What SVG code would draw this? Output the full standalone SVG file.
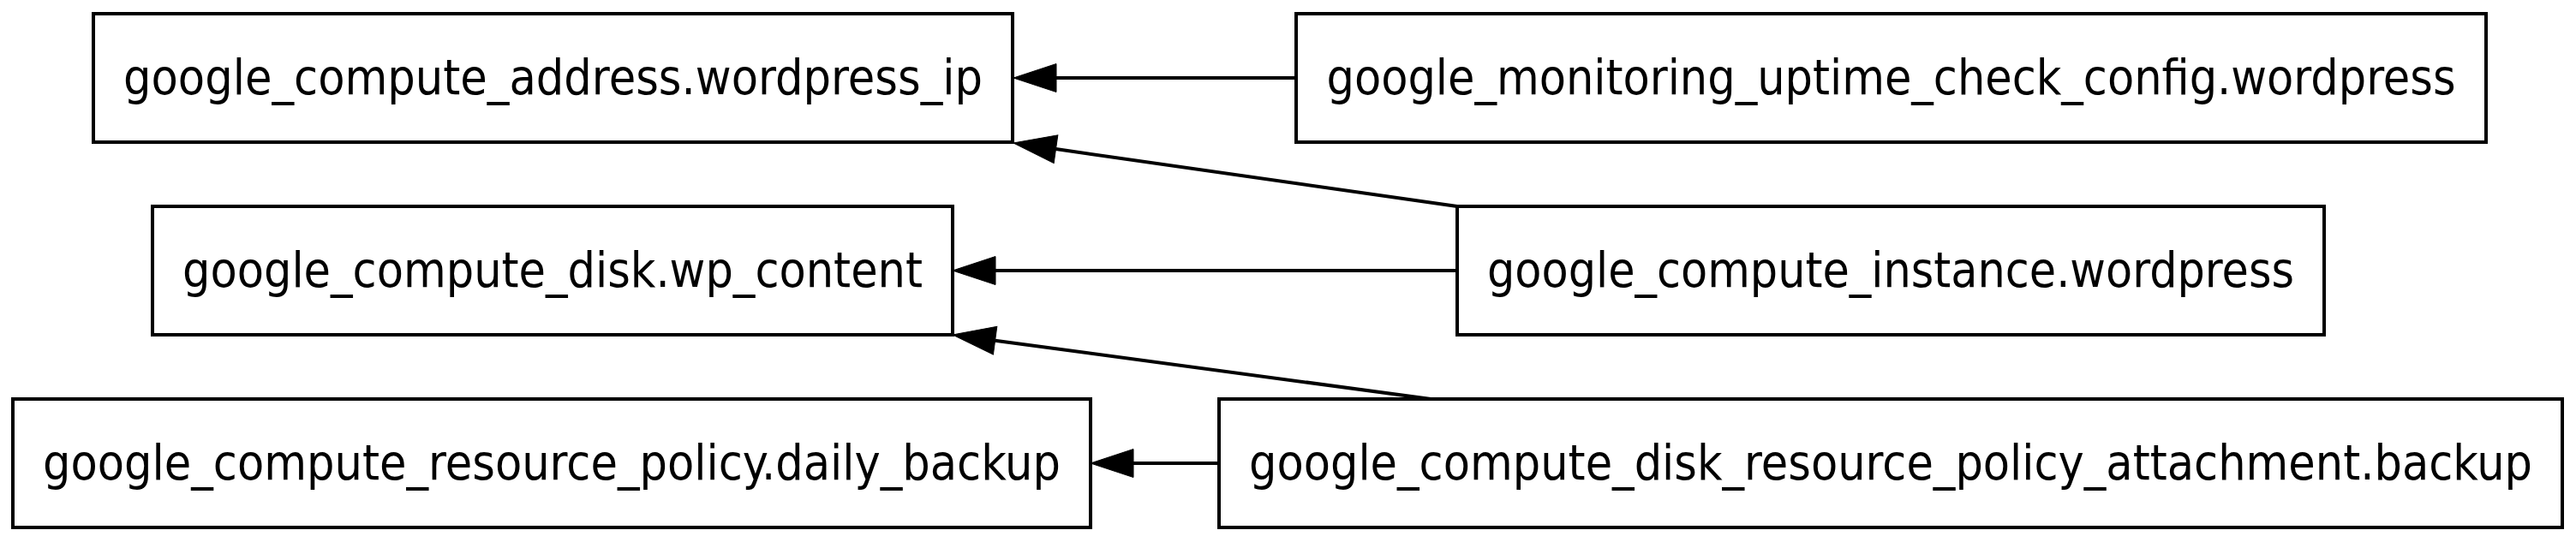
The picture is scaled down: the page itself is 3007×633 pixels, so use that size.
<svg xmlns="http://www.w3.org/2000/svg" width="3007" height="633" viewBox="0 0 3007 633">
<style>
.box{fill:#ffffff;stroke:#000000;stroke-width:4}
.lbl{font-family:"DejaVu Sans Condensed","DejaVu Sans",sans-serif;font-stretch:condensed;font-size:57px;fill:#000000;text-anchor:middle}
.edge{fill:none;stroke:#000000;stroke-width:4;marker-end:url(#arr)}
</style>
<defs>
<marker id="arr" markerUnits="userSpaceOnUse" viewBox="0 -17 50 34" refX="0" refY="0" markerWidth="50" markerHeight="34" orient="auto" overflow="visible">
<path d="M0,-16.5 L50,0 L0,16.5 Z" fill="#000000" stroke="#000000" stroke-width="1"/>
</marker>
</defs>
<rect width="3007" height="633" fill="#ffffff"/>
<g id="edges">
<line class="edge" x1="1513" y1="91" x2="1233" y2="91"/>
<line class="edge" x1="1701" y1="241" x2="1232.5" y2="174.1"/>
<line class="edge" x1="1701" y1="316" x2="1162" y2="316"/>
<line class="edge" x1="1670" y1="466" x2="1161.6" y2="397.7"/>
<line class="edge" x1="1423" y1="541" x2="1323" y2="541"/>
</g>
<g id="node_address">
<rect class="box" x="109" y="16" width="1073" height="150"/>
<text class="lbl" x="645.5" y="110" textLength="1003" lengthAdjust="spacingAndGlyphs">google_compute_address.wordpress_ip</text>
</g>
<g id="node_disk">
<rect class="box" x="178" y="241" width="934" height="150"/>
<text class="lbl" x="645" y="335" textLength="864" lengthAdjust="spacingAndGlyphs">google_compute_disk.wp_content</text>
</g>
<g id="node_policy">
<rect class="box" x="15" y="466" width="1258" height="150"/>
<text class="lbl" x="644" y="560" textLength="1188" lengthAdjust="spacingAndGlyphs">google_compute_resource_policy.daily_backup</text>
</g>
<g id="node_uptime">
<rect class="box" x="1513" y="16" width="1389" height="150"/>
<text class="lbl" x="2207.5" y="110" textLength="1318" lengthAdjust="spacingAndGlyphs">google_monitoring_uptime_check_config.wordpress</text>
</g>
<g id="node_instance">
<rect class="box" x="1701" y="241" width="1012" height="150"/>
<text class="lbl" x="2207" y="335" textLength="942" lengthAdjust="spacingAndGlyphs">google_compute_instance.wordpress</text>
</g>
<g id="node_attachment">
<rect class="box" x="1423" y="466" width="1568" height="150"/>
<text class="lbl" x="2207" y="560" textLength="1498" lengthAdjust="spacingAndGlyphs">google_compute_disk_resource_policy_attachment.backup</text>
</g>
</svg>
